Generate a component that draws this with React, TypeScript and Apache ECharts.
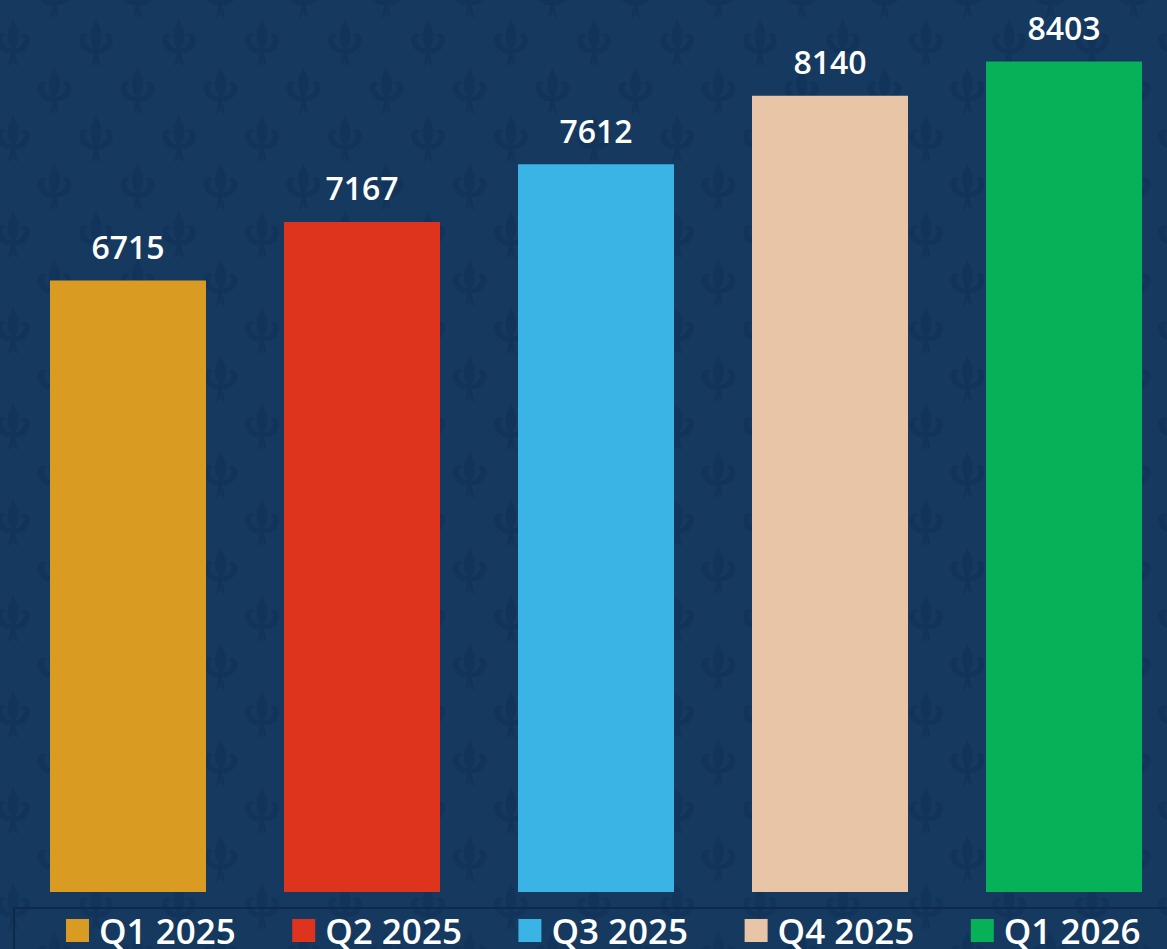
import React, { useEffect, useRef } from "react";
import * as echarts from "echarts";

const categories = ["Q1 2025", "Q2 2025", "Q3 2025", "Q4 2025", "Q1 2026"];
const values = [6715, 7167, 7612, 8140, 8403];
const colors = ["#D99B22", "#DE331D", "#3AB4E4", "#E8C5A6", "#07B158"];

const fleur = (tx: number, ty: number) =>
  `<g transform="translate(${tx},${ty})" fill="#12345a">` +
  `<path d="M17 0 C10 10 10 20 15 29 L19 29 C24 20 24 10 17 0Z"/>` +
  `<path d="M14 32 C7 34 0 28 0 20 C0 13 7 11 10 16 C7 15 5 19 7 23 C9 27 12 28 14 28Z"/>` +
  `<path d="M20 32 C27 34 34 28 34 20 C34 13 27 11 24 16 C27 15 29 19 27 23 C25 27 22 28 20 28Z"/>` +
  `<path d="M9 29 H25 V33 H9Z"/>` +
  `<path d="M15 33 L12 47 L17 42 L22 47 L19 33Z"/>` +
  `</g>`;

const tileSvg =
  `<svg xmlns="http://www.w3.org/2000/svg" width="83" height="96">` +
  fleur(4, 1) +
  fleur(45.5, 49) +
  `</svg>`;

const bgImage = `url("data:image/svg+xml,${encodeURIComponent(tileSvg)}")`;

export default function App() {
  const ref = useRef<HTMLDivElement>(null);
  useEffect(() => {
    if (!ref.current) return;
    const chart = echarts.init(ref.current, null, { renderer: "svg" });
    const series = categories.map((name, i) => ({
      name,
      type: "bar",
      stack: "all",
      barWidth: 156,
      data: values.map((v, j) => (j === i ? v : "-")),
      itemStyle: { color: colors[i] },
      label: {
        show: true,
        position: "top",
        distance: 18,
        color: "#ffffff",
        fontSize: 32,
        fontWeight: 600,
        fontFamily: "Open Sans",
      },
    }));
    chart.setOption({
      animation: false,
      backgroundColor: "transparent",
      color: colors,
      grid: { left: 11, top: 49, width: 1170, height: 843, containLabel: false },
      xAxis: {
        type: "category",
        data: categories,
        show: false,
      },
      yAxis: {
        type: "value",
        min: 2000,
        max: 8500,
        show: false,
      },
      legend: {
        data: categories,
        left: 14,
        top: 908,
        padding: [5, 80, 10, 52],
        itemWidth: 23,
        itemHeight: 23,
        itemGap: 56.5,
        icon: "rect",
        selectedMode: false,
        borderColor: "#0c2a4b",
        borderWidth: 2,
        textStyle: {
          color: "#ffffff",
          fontSize: 35,
          fontWeight: 600,
          fontFamily: "Open Sans",
          padding: [0, 0, 0, 5],
        },
      },
      series,
    });
    return () => chart.dispose();
  }, []);
  return (
    <div
      style={{
        position: "fixed",
        left: 0,
        top: 0,
        width: 1167,
        height: 949,
        overflow: "hidden",
        backgroundColor: "#15395f",
        backgroundImage: bgImage,
        backgroundPosition: "-8px 19px",
      }}
    >
      <div ref={ref} style={{ width: 1250, height: 949 }} />
    </div>
  );
}
